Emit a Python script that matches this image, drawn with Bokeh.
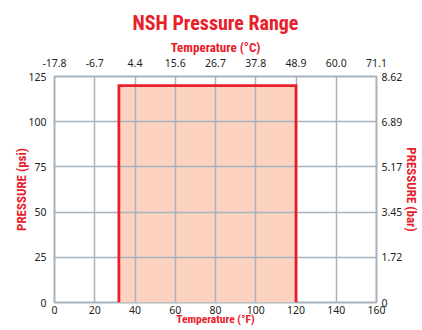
import math
from bokeh.plotting import figure
from bokeh.models import LinearAxis, FixedTicker, Range1d, Title
from bokeh.embed import file_html
from bokeh.resources import INLINE

# ---- data ----
fahrenheit_ticks = [0, 20, 40, 60, 80, 100, 120, 140, 160]
celsius_labels = ["-17.8", "-6.7", "4.4", "15.6", "26.7", "37.8", "48.9", "60.0", "71.1"]
psi_ticks = [0, 25, 50, 75, 100, 125]
bar_labels = ["0", "1.72", "3.45", "5.17", "6.89", "8.62"]
temp_min_f = 32
temp_max_f = 120
psi_min = 0
psi_max = 120

RED = "#E8202A"
GRID = "#A8B4BD"
TXT = "#231F20"
TICK_FONT = "Noto Sans"
HEAD_FONT = "Roboto Condensed, DejaVu Sans Condensed"

p = figure(width=422, height=330, x_range=Range1d(0, 160), y_range=Range1d(0, 125),
           output_backend="svg", toolbar_location=None, title=None,
           min_border_left=54, min_border_right=44, min_border_top=76, min_border_bottom=28)
p.background_fill_color = "white"
p.border_fill_color = "white"
p.outline_line_color = GRID
p.outline_line_width = 2

def style_axis(ax, standoff, label, label_standoff, label_size="13px"):
    ax.axis_line_color = None
    ax.major_tick_line_color = None
    ax.minor_tick_line_color = None
    ax.major_tick_out = 0
    ax.major_tick_in = 0
    ax.major_label_text_font = TICK_FONT
    ax.major_label_text_font_size = "10.5px"
    ax.major_label_text_color = TXT
    ax.major_label_standoff = standoff
    ax.axis_label = label
    ax.axis_label_text_font = HEAD_FONT
    ax.axis_label_text_font_style = "bold"
    ax.axis_label_text_font_size = label_size
    ax.axis_label_text_color = RED
    ax.axis_label_standoff = label_standoff

# bottom axis (F)
p.xaxis.ticker = FixedTicker(ticks=fahrenheit_ticks)
style_axis(p.xaxis[0], 3, "Temperature (°F)", -5, "11.5px")
# left axis (psi)
p.yaxis.ticker = FixedTicker(ticks=psi_ticks)
style_axis(p.yaxis[0], 8, "PRESSURE (psi)", -4)

# top axis (C)
top = LinearAxis(ticker=FixedTicker(ticks=fahrenheit_ticks),
                 major_label_overrides={f: c for f, c in zip(fahrenheit_ticks, celsius_labels)})
style_axis(top, 10, "Temperature (°C)", 1)
p.add_layout(top, "above")

# right axis (bar)
right = LinearAxis(ticker=FixedTicker(ticks=psi_ticks),
                   major_label_overrides={v: b for v, b in zip(psi_ticks, bar_labels)})
style_axis(right, 5, "PRESSURE (bar)", -1)
p.add_layout(right, "right")

p.add_layout(Title(text="NSH Pressure Range", align="center", text_font=HEAD_FONT,
                   text_font_style="bold", text_font_size="20px", text_color=RED,
                   standoff=3), "above")

p.xgrid.ticker = FixedTicker(ticks=fahrenheit_ticks)
p.ygrid.ticker = FixedTicker(ticks=psi_ticks)
for g in (p.xgrid[0], p.ygrid[0]):
    g.grid_line_color = GRID
    g.grid_line_width = 1.5

# operating range
p.quad(left=[temp_min_f], right=[temp_max_f], bottom=[psi_min], top=[psi_max],
       fill_color="#FDD2C0", line_color=None, level="image")
p.line(x=[temp_min_f, temp_min_f, temp_max_f, temp_max_f],
       y=[psi_min, psi_max, psi_max, psi_min],
       line_color=RED, line_width=2.8, line_join="miter")

open("out.html", "w").write(file_html(p, INLINE))
